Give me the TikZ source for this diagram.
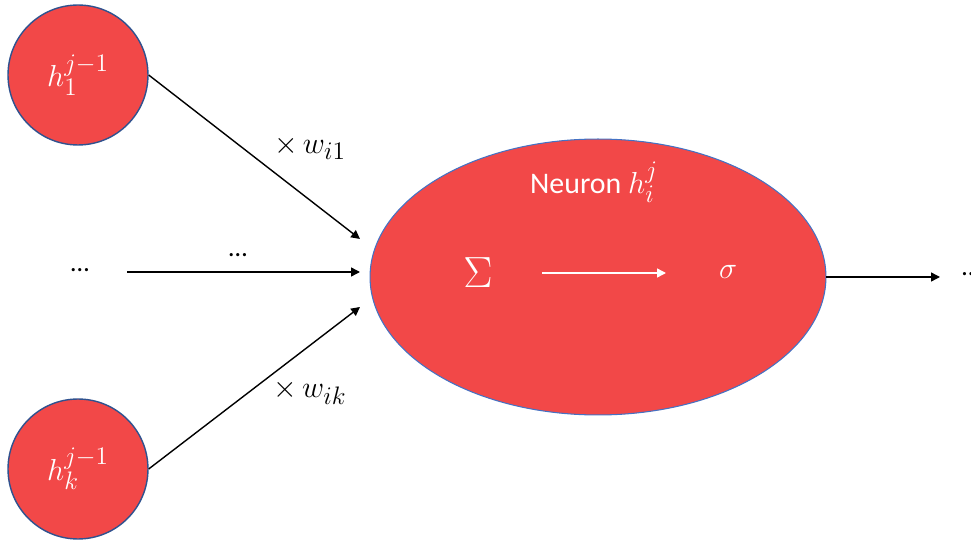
\documentclass[tikz,border=0pt]{standalone}
\usepackage{fontspec}
\setmainfont{Carlito}
\usepackage{tikz}
\usetikzlibrary{shapes.geometric, arrows.meta, positioning}

\definecolor{neurred}{RGB}{242,72,72}
\definecolor{rimblue}{RGB}{47,82,143}
\definecolor{edgeblue}{RGB}{68,114,196}

\begin{document}
\begin{tikzpicture}[
    x=0.02cm, y=-0.02cm,
    every node/.style={font=\fontsize{15}{18}\selectfont},
    big/.style={font=\fontsize{19}{22}\selectfont},
    inp/.style={circle, draw=rimblue, fill=neurred, line width=0.8pt,
                minimum size=2.8cm, inner sep=0pt, text=white, big},
    neur/.style={ellipse, draw=edgeblue, fill=neurred, line width=0.6pt,
                 minimum width=9.12cm, minimum height=5.52cm, inner sep=0pt},
    arrow/.style={-{Triangle[length=5pt, width=5pt]}, line width=0.8pt},
    lbl/.style={text=white}
  ]
  \useasboundingbox (0,0) rectangle (971,540);

  % Input neurons
  \node[inp] (h1) at (78,75) {$h_1^{j-1}$};
  \node[inp] (hk) at (78,469) {$h_k^{j-1}$};
  \node (dl) at (80,270) {\dots};

  % Neuron
  \node[neur] (neuron) at (598,277) {};
  \node[lbl, font=\fontsize{17}{20}\selectfont] (title) at (594,182)
    {Neuron \fontsize{19}{22}\selectfont$h_i^j$};
  \node[lbl, font=\fontsize{26}{30}\selectfont] (sum) at (478,273) {$\Sigma$};
  \node[lbl, big] (act) at (728,272) {$\sigma$};

  % Free ends
  \coordinate (in1) at (360,239);
  \coordinate (inm) at (360,272);
  \coordinate (ink) at (360,307);
  \coordinate (m0) at (127,272);
  \coordinate (out) at (940,277);
  \node[anchor=west] (dr) at (956,274) {\dots};

  % Connections
  \draw[arrow] (h1.east) -- (in1);
  \draw[arrow] (m0) -- (inm);
  \draw[arrow] (hk.east) -- (ink);
  \draw[arrow] (neuron.east) -- (out);
  \draw[arrow, white] (542,273) -- (666,273);

  % Weights
  \node[big] (w1) at (310,148) {$\times\, w_{i1}$};
  \node (wm) at (238,255) {\dots};
  \node[big] (wk) at (310,392) {$\times\, w_{ik}$};

\end{tikzpicture}
\end{document}
